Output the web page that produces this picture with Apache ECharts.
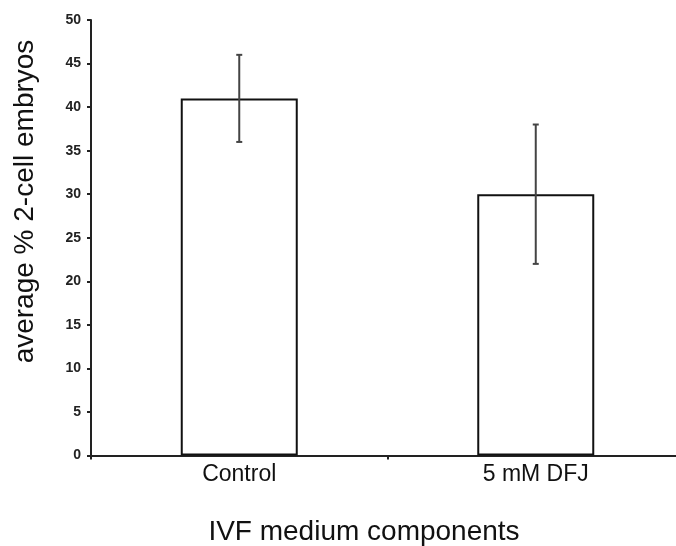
<!DOCTYPE html>
<html>
<head>
<meta charset="utf-8">
<script src="https://cdn.jsdelivr.net/npm/echarts@6/dist/echarts.min.js"></script>
<style>html,body{margin:0;padding:0;background:#fff;}#chart{width:676px;height:546px;}</style>
</head>
<body>
<div id="chart"></div>
<script>
var categories = ['Control', '5 mM DFJ'];
var means = [41, 30];
var errors = [5, 8];
var yTicks = { min: 0, max: 50, interval: 5 };
var yTitle = 'average % 2-cell embryos';
var xTitle = 'IVF medium components';

var chart = echarts.init(document.getElementById('chart'), null, { renderer: 'canvas' });
var barData = categories.map(function (c, i) { return [i, means[i]]; });
var errData = categories.map(function (c, i) { return [i, means[i] - errors[i], means[i] + errors[i]]; });
var catPositions = categories.map(function (c, i) { return i; });
var boundaryTicks = [-0.5, 0.5];

var X_MIN = -0.5, X_MAX = 1.473;

chart.setOption({
  animation: false,
  backgroundColor: '#fff',
  grid: { left: 91, top: 20, right: 0, bottom: 90.5, containLabel: false },
  xAxis: {
    type: 'value', min: X_MIN, max: X_MAX, interval: 0.5,
    axisLine: { show: true, onZero: false, lineStyle: { color: '#222', width: 2 } },
    axisTick: { show: true, length: 4, customValues: boundaryTicks, lineStyle: { color: '#222', width: 2 } },
    axisLabel: {
      margin: 8, customValues: catPositions,
      fontFamily: 'Liberation Sans, Arial', fontSize: 23, color: '#111',
      formatter: function (v) {
        var r = Math.round(v);
        return categories[r] !== undefined ? categories[r] : '';
      }
    },
    splitLine: { show: false }
  },
  yAxis: {
    type: 'value',
    min: yTicks.min, max: yTicks.max, interval: yTicks.interval,
    axisLine: { show: true, onZero: false, lineStyle: { color: '#222', width: 2 } },
    axisTick: { show: true, length: 4, lineStyle: { color: '#222', width: 2 } },
    axisLabel: { margin: 10, fontFamily: 'Liberation Sans, Arial', fontWeight: 'bold', fontSize: 14, color: '#222' },
    splitLine: { show: false }
  },
  graphic: [
    { type: 'text', x: 25, y: 201.5, rotation: Math.PI / 2,
      style: { text: yTitle, fontFamily: 'Liberation Sans, Arial', fontSize: 28, fill: '#111', align: 'center', verticalAlign: 'middle' } },
    { type: 'text', x: 364, y: 532,
      style: { text: xTitle, fontFamily: 'Liberation Sans, Arial', fontSize: 28, fill: '#111', align: 'center', verticalAlign: 'middle' } }
  ],
  series: [
    {
      type: 'bar',
      data: barData,
      barWidth: 117,
      itemStyle: { color: '#fff', borderColor: '#111', borderWidth: 2 },
      silent: true
    },
    {
      type: 'custom',
      data: errData,
      z: 10,
      renderItem: function (params, api) {
        var x = api.value(0);
        var lo = api.coord([x, api.value(1)]);
        var hi = api.coord([x, api.value(2)]);
        var cap = 3;
        var st = { stroke: '#444', lineWidth: 2 };
        return {
          type: 'group',
          children: [
            { type: 'line', shape: { x1: hi[0], y1: hi[1], x2: lo[0], y2: lo[1] }, style: st },
            { type: 'line', shape: { x1: hi[0] - cap, y1: hi[1], x2: hi[0] + cap, y2: hi[1] }, style: st },
            { type: 'line', shape: { x1: lo[0] - cap, y1: lo[1], x2: lo[0] + cap, y2: lo[1] }, style: st }
          ]
        };
      }
    }
  ]
});
</script>
</body>
</html>
